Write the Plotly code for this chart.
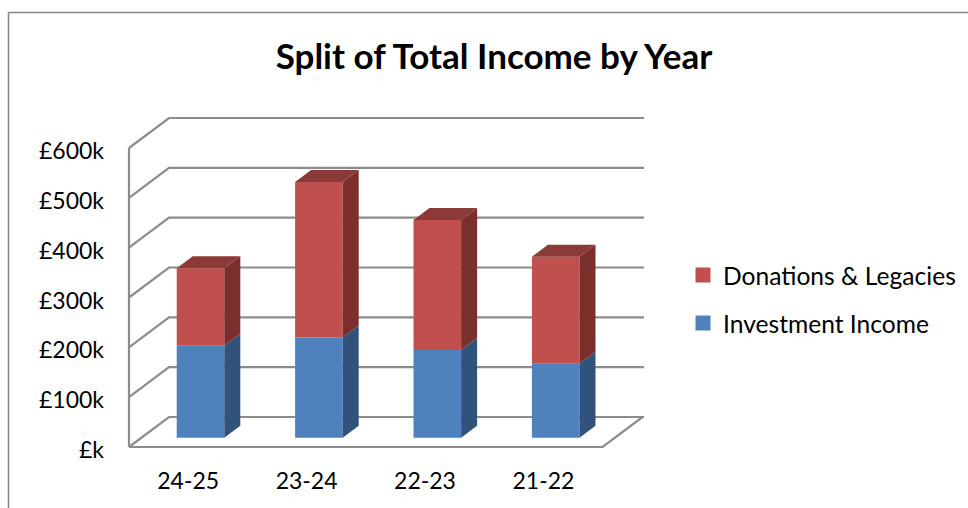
import plotly.graph_objects as go

categories = ["24-25", "23-24", "22-23", "21-22"]
investment = [184.6, 201, 176, 148.5]
donations = [155.4, 312, 261, 214.5]
y_ticks = [0, 100, 200, 300, 400, 500, 600]
y_labels = ["£k", "£100k", "£200k", "£300k", "£400k", "£500k", "£600k"]

W, H = 968, 508
X0, Y0 = 129, 447          # pixel position of the axis origin
PAD = 3                    # room round the frame so its lines are not clipped
L, R, T, B = X0 - PAD, 647, 115, Y0 + PAD
CAT_PX = 118.4
K_PX = 299 / 600
FONT = "Lato, Carlito, Calibri, sans-serif"
BLUE, RED = "#4F81BD", "#C0504D"
BLUE_SIDE, RED_SIDE = "#31527A", "#7A2F2D"
RED_TOP = "#8B3A38"
GRID = "#8C8C8C"
TXT = "#000000"

xmin, xmax = -PAD / CAT_PX, (R - X0) / CAT_PX
ymin, ymax = -PAD / K_PX, (Y0 - T) / K_PX
wall_dx, wall_dy = 40 / CAT_PX, 30 / K_PX      # wall depth in axis units
wall_end = (644 - X0) / CAT_PX
bar_dx, bar_dy = 16 / CAT_PX, 12 / K_PX        # bar depth in axis units
bar_shift = 12.3 / CAT_PX
bar_width = 47.6 / CAT_PX
bar_base = 9.3 / K_PX
n = len(categories)
xc = [i + 0.5 + bar_shift for i in range(n)]
tick_x = [i + 0.5 for i in range(n)]

fig = go.Figure()
inv_tops = [bar_base + v for v in investment]
tot_tops = [t + d for t, d in zip(inv_tops, donations)]

fig.add_bar(x=xc, y=investment, base=[bar_base] * n, width=bar_width,
            marker=dict(color=BLUE, line_width=0), showlegend=False, name="Investment Income")
fig.add_bar(x=xc, y=donations, base=inv_tops, width=bar_width,
            marker=dict(color=RED, line_width=0), showlegend=False, name="Donations & Legacies")


def poly(xs, ys, color):
    fig.add_scatter(x=xs, y=ys, mode="lines", fill="toself", fillcolor=color,
                    line=dict(width=0, color=color), showlegend=False, hoverinfo="skip")


for i in range(n):
    x1 = xc[i] + bar_width / 2
    x0 = xc[i] - bar_width / 2
    poly([x1, x1 + bar_dx, x1 + bar_dx, x1, x1],
         [bar_base, bar_base + bar_dy, inv_tops[i] + bar_dy, inv_tops[i], bar_base], BLUE_SIDE)
    poly([x1, x1 + bar_dx, x1 + bar_dx, x1, x1],
         [inv_tops[i], inv_tops[i] + bar_dy, tot_tops[i] + bar_dy, tot_tops[i], inv_tops[i]], RED_SIDE)
    poly([x0, x0 + bar_dx, x1 + bar_dx, x1, x0],
         [tot_tops[i], tot_tops[i] + bar_dy, tot_tops[i] + bar_dy, tot_tops[i], tot_tops[i]], RED_TOP)

# legend entries (square swatches)
fig.add_scatter(x=[None], y=[None], mode="markers", name="Donations & Legacies", legendgroup="d",
                marker=dict(symbol="square", size=15, color=RED))
fig.add_scatter(x=[None], y=[None], mode="markers", name="Investment Income", legendgroup="i",
                marker=dict(symbol="square", size=15, color=BLUE))

shapes = []


def seg(xs, ys):
    path = "M" + " L".join(f"{a},{b}" for a, b in zip(xs, ys))
    shapes.append(dict(type="path", path=path, xref="x", yref="y", layer="below",
                       line=dict(color=GRID, width=2.2), fillcolor="rgba(0,0,0,0)"))


for v in y_ticks:
    seg([0, wall_dx, wall_end], [v, v + wall_dy, v + wall_dy])
seg([0, 0], [0, y_ticks[-1]])
seg([0, n, n + wall_dx], [0, 0, wall_dy])


def px(v):
    return (v - L) / (R - L)


def py(v):
    return (B - v) / (B - T)


for x0, y0, x1, y1 in [(8.5, 12.5, 968, 12.5), (8.5, 12.5, 8.5, 508)]:
    shapes.append(dict(type="line", xref="paper", yref="paper", x0=px(x0), y0=py(y0), x1=px(x1), y1=py(y1),
                       line=dict(color="#868686", width=1.5)))

fig.update_layout(
    width=W, height=H,
    margin=dict(l=L, r=W - R, t=T, b=H - B, autoexpand=False),
    paper_bgcolor="white", plot_bgcolor="rgba(0,0,0,0)",
    barmode="overlay",
    font=dict(family=FONT, color=TXT, size=23),
    title=dict(text="<b>Split of Total Income by Year</b>", x=494 / W, y=1 - 57 / H, xref="container",
               yref="container", xanchor="center", yanchor="middle", font=dict(size=35, family=FONT, color=TXT)),
    xaxis=dict(range=[xmin, xmax], tickvals=tick_x, ticktext=categories, showgrid=False, zeroline=False,
               showline=False, ticks="", ticklabelstandoff=15, tickfont=dict(size=23, family=FONT, color=TXT)),
    yaxis=dict(range=[ymin, ymax], tickvals=y_ticks, ticktext=y_labels, showgrid=False, zeroline=False,
               showline=False, ticks="", ticklabelstandoff=21, ticklabelshift=3,
               tickfont=dict(size=23, family=FONT, color=TXT)),
    legend=dict(x=px(683), y=py(299), xanchor="left", yanchor="middle", xref="paper", yref="paper",
                tracegroupgap=13, font=dict(size=24.6, family=FONT, color=TXT), bgcolor="rgba(0,0,0,0)",
                itemsizing="trace", traceorder="grouped"),
    shapes=shapes,
)
fig.write_html("out.html", config={"displayModeBar": False},
               post_script="document.body.style.margin='0';document.body.style.overflow='hidden';")
